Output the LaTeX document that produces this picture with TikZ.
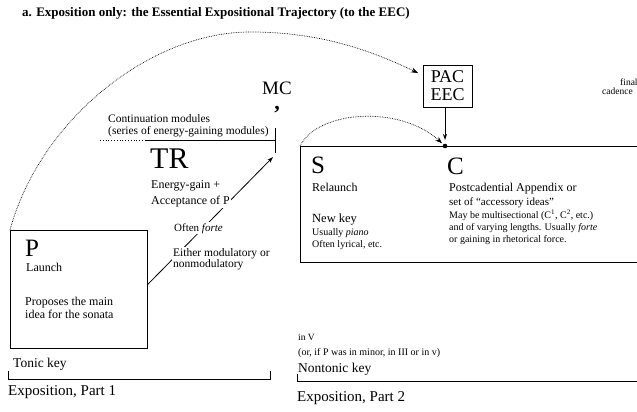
\documentclass[tikz,border=0pt]{standalone}
\usepackage{fontspec}
\setmainfont{Liberation Serif}
\usetikzlibrary{arrows.meta}
\begin{document}
\begin{tikzpicture}[x=1pt,y=-1pt,
  txt/.style={inner sep=0pt, anchor=base west},
  wtxt/.style={inner sep=1pt, anchor=base west, fill=white},
  ln/.style={line width=0.8pt},
  arcline/.style={line width=0.7pt, densely dotted, -{Stealth[length=7pt,width=5pt]}},
  tip/.style={-{Stealth[length=6pt,width=4pt]}},
  fbig/.style={font=\fontsize{25}{25}\selectfont},
  fbody/.style={font=\fontsize{12}{13}\selectfont},
  fsmall/.style={font=\fontsize{10}{11}\selectfont},
]
\clip (0,0) rectangle (637,412);
\fill[white] (0,0) rectangle (637,412);

% title
\node[txt, font=\bfseries\fontsize{13}{14}\selectfont] (title) at (22,16.5)
  {a. Exposition only: the Essential Expositional Trajectory (to the EEC)};

% P box
\node[draw, ln, minimum width=137, minimum height=118, anchor=north west, inner sep=0pt] (pbox) at (10,230) {};
\node[txt, fbig] (plab) at (25,256) {P};
\node[txt, fbody] (plaunch) at (26,271) {Launch};
\node[txt, fbody] (pprop1) at (25,305) {Proposes the main};
\node[txt, fbody] (pprop2) at (25,318) {idea for the sonata};

% MC bracket and continuation modules
\coordinate (cmstart) at (100,140);
\coordinate (cmsolid) at (145,140);
\coordinate (mcbar) at (275,140);
\coordinate (mctop) at (275,128);
\coordinate (mcbot) at (275,153);
\coordinate (mctip) at (273,157);
\draw[ln, dotted] (cmstart) -- (cmsolid);
\draw[ln] (cmsolid) -- (mcbar);
\draw[ln] (mctop) -- (mcbot);
\node[txt, font=\fontsize{11.5}{12}\selectfont] (cont1) at (108,122) {Continuation modules};
\node[txt, font=\fontsize{11.5}{12}\selectfont] (cont2) at (108,134) {(series of energy-gaining modules)};
\node[anchor=base, inner sep=0pt, font=\fontsize{19}{19}\selectfont] (mc) at (277,94) {MC};
\node[anchor=base, inner sep=0pt, font=\bfseries\fontsize{22}{22}\selectfont] (mccomma) at (277,110) {,};

% TR arrow line
\draw[ln, tip] ([yshift=5pt]pbox.east) -- (mctip);
\node[txt, font=\fontsize{30}{30}\selectfont] (tr) at (150,168) {TR};
\node[wtxt, fbody] (tr1) at (150,188) {Energy-gain +};
\node[wtxt, fbody] (tr2) at (150,204) {Acceptance of P};
\node[wtxt, font=\fontsize{11}{12}\selectfont] (often) at (173,231) {Often \textit{forte}};
\node[wtxt, font=\fontsize{11.5}{11}\selectfont, align=left, anchor=north west] (either) at (172,247) {Either modulatory or\\nonmodulatory};

% big dotted arc to PAC
\coordinate (pacin) at (418,73);
\draw[arcline] (pbox.north west) .. controls (40,120) and (150,32) .. (250,32)
  .. controls (320,32) and (370,50) .. (pacin);

% PAC EEC box
\node[draw, ln, minimum width=49, minimum height=42, inner sep=0pt] (pac) at (447.5,86) {};
\node[anchor=base, inner sep=0pt, font=\fontsize{18}{18}\selectfont] (pac1) at (447.5,82) {PAC};
\node[anchor=base, inner sep=0pt, font=\fontsize{18}{18}\selectfont] (pac2) at (447.5,100) {EEC};
\coordinate (dot) at (445,146);
\fill (dot) circle (2.3);
\draw[ln, tip, shorten >=6pt] (pac.south -| dot) -- (dot);

% S / C box
\coordinate (scne) at (640,146);
\coordinate (scnw) at (300,146);
\coordinate (scsw) at (300,262);
\coordinate (scse) at (640,262);
\draw[ln] (scne) -- (scnw) -- (scsw) -- (scse);
\draw[arcline, shorten >=4pt] (scnw) .. controls (318,110) and (400,105) .. (dot);

\node[txt, fbig] (slab) at (311,173) {S};
\node[txt, fbody] (srel) at (312,191) {Relaunch};
\node[txt, font=\fontsize{12.5}{13}\selectfont] (snew) at (312,222) {New key};
\node[txt, fsmall] (susu) at (312,235) {Usually \textit{piano}};
\node[txt, fsmall] (soft) at (312,247) {Often lyrical, etc.};

\node[txt, fbig] (clab) at (447,174) {C};
\node[txt, font=\fontsize{12}{13}\selectfont] (c1) at (449,191) {Postcadential Appendix or};
\node[txt, font=\fontsize{11}{13}\selectfont] (c2) at (449,205) {set of ``accessory ideas''};
\node[txt, fsmall] (c3) at (449,218) {May be multisectional (C\textsuperscript{1}, C\textsuperscript{2}, etc.)};
\node[txt, fsmall] (c4) at (449,230) {and of varying lengths. Usually \textit{forte}};
\node[txt, fsmall] (c5) at (449,242) {or gaining in rhetorical force.};

% final cadence (cut off)
\node[txt, font=\fontsize{9.5}{10}\selectfont] (fin1) at (620,85) {final};
\node[txt, font=\fontsize{9.5}{10}\selectfont] (fin2) at (602,95) {cadence};

% keys and brackets
\node[txt, font=\fontsize{13.5}{14}\selectfont] (tonic) at (13,367) {Tonic key};
\coordinate (b1a) at (8,371);
\coordinate (b1b) at (8,379);
\coordinate (b1c) at (270,379);
\coordinate (b1d) at (270,371);
\draw[ln] (b1a) -- (b1b) -- (b1c) -- (b1d);
\node[txt, font=\fontsize{15}{16}\selectfont] (exp1) at (8,395) {Exposition, Part 1};

\node[txt, font=\fontsize{9.5}{10}\selectfont] (inv) at (298,340) {in V};
\node[txt, fsmall] (orif) at (298,355) {(or, if P was in minor, in III or in v)};
\node[txt, font=\fontsize{13.5}{14}\selectfont] (nontonic) at (298,372) {Nontonic key};
\coordinate (b2a) at (297,374);
\coordinate (b2b) at (297,381);
\coordinate (b2c) at (640,381);
\draw[ln] (b2a) -- (b2b) -- (b2c);
\node[txt, font=\fontsize{15}{16}\selectfont] (exp2) at (297,401) {Exposition, Part 2};
\end{tikzpicture}
\end{document}
